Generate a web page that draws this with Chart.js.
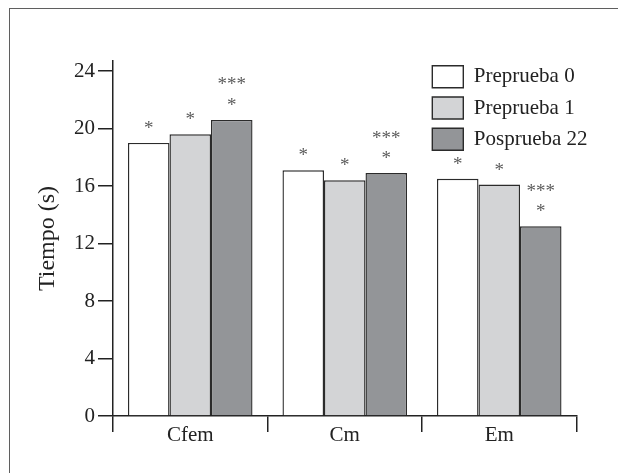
<!DOCTYPE html>
<html>
<head>
<meta charset="utf-8">
<script src="https://cdn.jsdelivr.net/npm/chart.js@4/dist/chart.umd.min.js"></script>
<style>
    body { margin: 0; background: #fff; }
    #wrap { position: relative; width: 618px; height: 473px; overflow: hidden; }
    #frame {
        position: absolute; left: 9px; top: 8px; width: 700px; height: 600px;
        border-left: 1.5px solid #5f5f5f; border-top: 1.5px solid #5f5f5f;
        pointer-events: none;
    }
</style>
</head>
<body>
<div id="wrap">
    <canvas id="barChart" width="618" height="473"></canvas>
    <div id="frame"></div>
</div>
<script>
// Data
const categories = ['Cfem', 'Cm', 'Em'];
const preprueba0 = [19.0, 17.1, 16.5];
const preprueba1 = [19.6, 16.4, 16.1];
const posprueba22 = [20.6, 16.9, 13.2];
const yTicks = [0, 4, 8, 12, 16, 20, 24];

// significance marks above each bar (top line first)
const marks0 = [['*'], ['*'], ['*']];
const marks1 = [['*'], ['*'], ['*']];
const marks22 = [['***', '*'], ['***', '*'], ['***', '*']];

const INK = '#222';
const SERIF = "'Liberation Serif', 'Times New Roman', serif";

Chart.defaults.font.family = SERIF;
Chart.defaults.font.size = 21;
Chart.defaults.color = INK;

// legend sits inside the plot, top right
const legendMover = {
    id: 'legendMover',
    afterLayout(chart) {
        const lg = chart.legend;
        const area = chart.chartArea;
        lg.left = area.right - 153.5;
        lg.right = area.right + 40;
        lg.top = area.top - 4.6;
        lg.bottom = area.bottom;
    }
};

// asterisks over bars
const sigMarks = {
    id: 'sigMarks',
    afterDatasetsDraw(chart) {
        const ctx = chart.ctx;
        ctx.save();
        ctx.font = '19px ' + SERIF;
        ctx.fillStyle = '#5c5c5c';
        ctx.textAlign = 'center';
        ctx.textBaseline = 'alphabetic';
        chart.data.datasets.forEach((ds, di) => {
            const meta = chart.getDatasetMeta(di);
            meta.data.forEach((bar, i) => {
                const lines = ds.marks[i] || [];
                const n = lines.length;
                lines.forEach((txt, k) => {
                    const cy = bar.y - 18 - (n - 1 - k) * 20.5;
                    ctx.fillText(txt, bar.x, cy + 9);
                });
            });
        });
        ctx.restore();
    }
};

new Chart(document.getElementById('barChart').getContext('2d'), {
    type: 'bar',
    data: {
        labels: categories,
        datasets: [
            {
                label: 'Preprueba 0',
                data: preprueba0,
                marks: marks0,
                backgroundColor: '#ffffff',
                borderColor: '#2b2b2b',
                borderWidth: 1.4
            },
            {
                label: 'Preprueba 1',
                data: preprueba1,
                marks: marks1,
                backgroundColor: '#d3d4d6',
                borderColor: '#2b2b2b',
                borderWidth: 1.4
            },
            {
                label: 'Posprueba 22',
                data: posprueba22,
                marks: marks22,
                backgroundColor: '#939598',
                borderColor: '#2b2b2b',
                borderWidth: 1.4
            }
        ]
    },
    options: {
        responsive: false,
        animation: false,
        layout: { padding: { left: 33.6, right: 41.5, top: 61, bottom: 7 } },
        datasets: { bar: { categoryPercentage: 0.806, barPercentage: 1.0 } },
        scales: {
            x: {
                offset: true,
                afterFit: (scale) => { scale.height = 50; },
                grid: {
                    offset: true,
                    drawOnChartArea: false,
                    drawTicks: true,
                    tickLength: 16,
                    color: INK,
                    lineWidth: 1.5
                },
                border: { color: INK, width: 1.5 },
                ticks: { padding: -9, color: INK, font: { size: 21 } }
            },
            y: {
                min: 0,
                max: 24.7,
                afterBuildTicks: (scale) => { scale.ticks = yTicks.map(v => ({ value: v })); },
                grid: {
                    drawOnChartArea: false,
                    drawTicks: true,
                    tickLength: 15,
                    color: INK,
                    lineWidth: 1.5
                },
                border: { color: INK, width: 1.5 },
                ticks: { padding: 3, color: INK, font: { size: 21 } },
                title: {
                    display: true,
                    text: 'Tiempo (s)',
                    color: INK,
                    font: { size: 24 },
                    padding: { top: 0, bottom: 8.6 }
                }
            }
        },
        plugins: {
            legend: {
                position: 'chartArea',
                align: 'start',
                labels: {
                    boxWidth: 31,
                    boxHeight: 22,
                    padding: 9.3,
                    color: INK,
                    font: { size: 21 }
                }
            },
            tooltip: { enabled: false }
        }
    },
    plugins: [legendMover, sigMarks]
});
</script>
</body>
</html>
